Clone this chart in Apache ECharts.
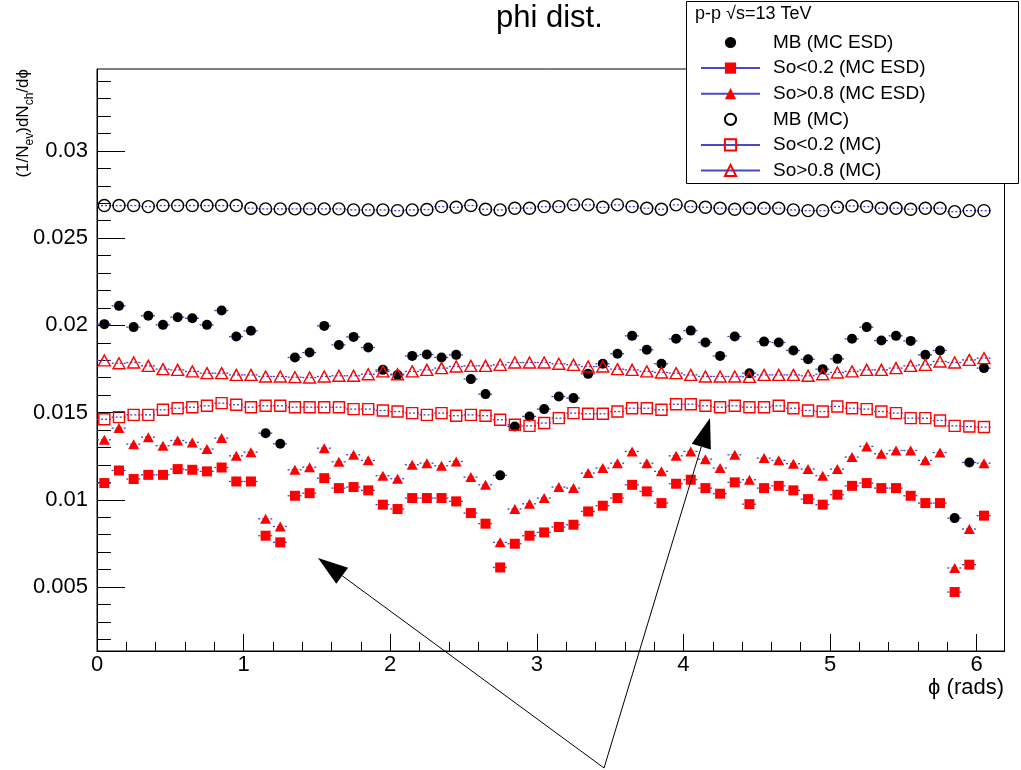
<!DOCTYPE html>
<html>
<head>
<meta charset="UTF-8">
<title>phi dist.</title>
<script src="https://cdn.jsdelivr.net/npm/echarts@6/dist/echarts.min.js"></script>
<style>
  html, body { margin: 0; padding: 0; background: #fff; }
  #chart { width: 1021px; height: 770px; }
</style>
</head>
<body>
<div id="chart"></div>
<script>
  // bin centres (rads), bins are 0.1 wide
  var phiBins = [0.05, 0.15, 0.25, 0.35, 0.45, 0.55, 0.65, 0.75, 0.85, 0.95,
                 1.05, 1.15, 1.25, 1.35, 1.45, 1.55, 1.65, 1.75, 1.85, 1.95,
                 2.05, 2.15, 2.25, 2.35, 2.45, 2.55, 2.65, 2.75, 2.85, 2.95,
                 3.05, 3.15, 3.25, 3.35, 3.45, 3.55, 3.65, 3.75, 3.85, 3.95,
                 4.05, 4.15, 4.25, 4.35, 4.45, 4.55, 4.65, 4.75, 4.85, 4.95,
                 5.05, 5.15, 5.25, 5.35, 5.45, 5.55, 5.65, 5.75, 5.85, 5.95,
                 6.05];
  var HALF_BIN = 0.05;

  // MB (MC ESD) - filled black circles
  var mbEsd = [0.02007, 0.02112, 0.01990, 0.02055, 0.02003, 0.02047, 0.02041, 0.02003, 0.02085, 0.01936,
               0.01969, 0.01382, 0.01321, 0.01816, 0.01844, 0.01997, 0.01888, 0.01934, 0.01873, 0.01745,
               0.01716, 0.01825, 0.01833, 0.01816, 0.01831, 0.01692, 0.01606, 0.01140, 0.01420, 0.01478,
               0.01520, 0.01592, 0.01583, 0.01722, 0.01780, 0.01837, 0.01940, 0.01860, 0.01780, 0.01923,
               0.01970, 0.01902, 0.01825, 0.01936, 0.01726, 0.01907, 0.01902, 0.01856, 0.01806, 0.01749,
               0.01808, 0.01923, 0.01990, 0.01913, 0.01940, 0.01911, 0.01831, 0.01856, 0.00895, 0.01214,
               0.01755];
  // So<0.2 (MC ESD) - filled red squares
  var soLowEsd = [0.01096, 0.01168, 0.01119, 0.01143, 0.01143, 0.01176, 0.01172, 0.01163, 0.01185, 0.01105,
                  0.01105, 0.00794, 0.00756, 0.01023, 0.01038, 0.01124, 0.01067, 0.01073, 0.01054, 0.00972,
                  0.00947, 0.01010, 0.01010, 0.01010, 0.00991, 0.00924, 0.00863, 0.00612, 0.00748, 0.00794,
                  0.00813, 0.00844, 0.00857, 0.00933, 0.00966, 0.01010, 0.01086, 0.01048, 0.00981, 0.01092,
                  0.01115, 0.01067, 0.01035, 0.01100, 0.00975, 0.01067, 0.01080, 0.01054, 0.01004, 0.00972,
                  0.01029, 0.01080, 0.01096, 0.01067, 0.01067, 0.01023, 0.00981, 0.00981, 0.00471, 0.00628,
                  0.00909];
  // So>0.8 (MC ESD) - filled red triangles
  var soHighEsd = [0.01344, 0.01411, 0.01319, 0.01359, 0.01310, 0.01340, 0.01329, 0.01291, 0.01354, 0.01252,
                   0.01273, 0.00891, 0.00847, 0.01172, 0.01187, 0.01296, 0.01218, 0.01258, 0.01226, 0.01138,
                   0.01121, 0.01201, 0.01210, 0.01195, 0.01220, 0.01130, 0.01086, 0.00756, 0.00947, 0.00977,
                   0.01010, 0.01073, 0.01067, 0.01153, 0.01182, 0.01210, 0.01277, 0.01210, 0.01163, 0.01252,
                   0.01277, 0.01233, 0.01182, 0.01258, 0.01115, 0.01239, 0.01226, 0.01207, 0.01176, 0.01138,
                   0.01176, 0.01245, 0.01306, 0.01264, 0.01283, 0.01283, 0.01226, 0.01271, 0.00609, 0.00832,
                   0.01210];
  // MB (MC) - open black circles
  var mbMc = [0.02687, 0.02687, 0.02687, 0.02681, 0.02687, 0.02687, 0.02687, 0.02687, 0.02687, 0.02687,
              0.02672, 0.02668, 0.02668, 0.02668, 0.02668, 0.02668, 0.02668, 0.02662, 0.02662, 0.02662,
              0.02658, 0.02662, 0.02664, 0.02681, 0.02677, 0.02687, 0.02666, 0.02662, 0.02672, 0.02672,
              0.02681, 0.02681, 0.02691, 0.02691, 0.02677, 0.02691, 0.02681, 0.02672, 0.02666, 0.02691,
              0.02681, 0.02677, 0.02672, 0.02666, 0.02672, 0.02672, 0.02672, 0.02662, 0.02658, 0.02658,
              0.02677, 0.02685, 0.02681, 0.02672, 0.02672, 0.02666, 0.02672, 0.02672, 0.02652, 0.02658,
              0.02658];
  // So<0.2 (MC) - open red squares
  var soLowMc = [0.01462, 0.01474, 0.01487, 0.01487, 0.01516, 0.01525, 0.01531, 0.01539, 0.01554, 0.01545,
                 0.01531, 0.01539, 0.01539, 0.01531, 0.01531, 0.01531, 0.01531, 0.01520, 0.01520, 0.01512,
                 0.01506, 0.01497, 0.01487, 0.01497, 0.01482, 0.01487, 0.01482, 0.01459, 0.01430, 0.01424,
                 0.01440, 0.01468, 0.01497, 0.01493, 0.01493, 0.01506, 0.01525, 0.01525, 0.01516, 0.01548,
                 0.01548, 0.01539, 0.01531, 0.01539, 0.01531, 0.01531, 0.01539, 0.01525, 0.01512, 0.01506,
                 0.01535, 0.01525, 0.01520, 0.01506, 0.01497, 0.01468, 0.01468, 0.01455, 0.01424, 0.01420,
                 0.01417];
  // So>0.8 (MC) - open red triangles
  var soHighMc = [0.01799, 0.01783, 0.01787, 0.01768, 0.01749, 0.01745, 0.01736, 0.01726, 0.01726, 0.01716,
                  0.01716, 0.01707, 0.01707, 0.01703, 0.01701, 0.01707, 0.01711, 0.01711, 0.01720, 0.01736,
                  0.01720, 0.01736, 0.01745, 0.01755, 0.01764, 0.01768, 0.01768, 0.01774, 0.01787, 0.01787,
                  0.01787, 0.01780, 0.01774, 0.01764, 0.01764, 0.01749, 0.01745, 0.01736, 0.01730, 0.01726,
                  0.01716, 0.01707, 0.01707, 0.01707, 0.01705, 0.01716, 0.01716, 0.01716, 0.01711, 0.01720,
                  0.01730, 0.01736, 0.01745, 0.01745, 0.01755, 0.01768, 0.01774, 0.01793, 0.01787, 0.01802,
                  0.01812];

  var xMajorTicks = [0, 1, 2, 3, 4, 5, 6];
  var xMinorTicks = [0.2, 0.4, 0.6, 0.8, 1.2, 1.4, 1.6, 1.8, 2.2, 2.4, 2.6, 2.8,
                     3.2, 3.4, 3.6, 3.8, 4.2, 4.4, 4.6, 4.8, 5.2, 5.4, 5.6, 5.8, 6.0];
  var yMajorTicks = [0.005, 0.01, 0.015, 0.02, 0.025, 0.03];
  var yMinorTicks = [0.002, 0.003, 0.004, 0.006, 0.007, 0.008, 0.009, 0.011, 0.012, 0.013, 0.014,
                     0.016, 0.017, 0.018, 0.019, 0.021, 0.022, 0.023, 0.024, 0.026, 0.027, 0.028,
                     0.029, 0.031, 0.032, 0.033, 0.034];

  // y title pieces: [text, isSubscript]
  var yTitleParts = [['(1/N', false], ['ev', true], [')dN', false], ['ch', true], ['/d\u03D5', false]];

  var X_MIN = 0, X_MAX = 6.19;
  var Y_MIN = 0.00133, Y_MAX = 0.0347;

  var FONT = '"Liberation Sans", Arial, Helvetica, sans-serif';
  var RED = '#ff0000';
  var BAR_BLUE = '#4040d0';

  function pairs(ys) {
    return phiBins.map(function (x, i) { return [x, ys[i]]; });
  }

  // markers only, no connecting line (line type so the legend can show the blue bar)
  function markerSeries(name, ys, symbol, size, fill, stroke) {
    var hollow = fill === 'transparent';
    return {
      name: name,
      type: 'line',
      data: pairs(ys),
      symbol: symbol,
      symbolSize: size,
      showAllSymbol: true,
      lineStyle: { width: 0 },
      itemStyle: { color: fill, borderColor: stroke, borderWidth: hollow ? 1.4 : 0 },
      emphasis: { disabled: true },
      silent: true,
      z: 3
    };
  }

  // horizontal bin-width bars drawn in dotted blue
  function binBars(ys) {
    return {
      type: 'custom',
      data: pairs(ys),
      encode: { x: 0, y: 1 },
      silent: true,
      z: 2,
      renderItem: function (params, api) {
        var x = api.value(0), y = api.value(1);
        var a = api.coord([x - HALF_BIN, y]);
        var b = api.coord([x + HALF_BIN, y]);
        return {
          type: 'line',
          shape: { x1: a[0], y1: a[1], x2: b[0], y2: b[1] },
          style: { stroke: BAR_BLUE, lineWidth: 1.3, lineDash: [2, 2] }
        };
      }
    };
  }

  function arrow(x0, y0, x1, y1) {
    var dx = x1 - x0, dy = y1 - y0;
    var len = Math.sqrt(dx * dx + dy * dy);
    var ux = dx / len, uy = dy / len;
    var headLen = 30, headHalf = 10;
    var bx = x1 - ux * headLen, by = y1 - uy * headLen;
    return [
      { type: 'line', z: 10, shape: { x1: x0, y1: y0, x2: bx, y2: by },
        style: { stroke: '#000', lineWidth: 1 } },
      { type: 'polygon', z: 10,
        shape: { points: [[x1, y1], [bx - uy * headHalf, by + ux * headHalf], [bx + uy * headHalf, by - ux * headHalf]] },
        style: { fill: '#000' } }
    ];
  }

  // rotated y title with real subscripts, pieces laid out along the baseline
  function yTitle(baseX, topY) {
    var ctx = document.createElement('canvas').getContext('2d');
    var MAIN = 17, SUB = 12;
    var children = [], pos = 0;
    yTitleParts.forEach(function (p) {
      var fs = p[1] ? SUB : MAIN;
      var font = fs + 'px ' + FONT;
      ctx.font = font;
      children.push({
        type: 'text', x: pos, y: (p[1] ? 5 : 0) - 0.3465 * fs,
        style: { text: p[0], font: font, fill: '#000', verticalAlign: 'middle' }
      });
      pos += ctx.measureText(p[0]).width;
    });
    return { type: 'group', x: baseX, y: topY + pos, rotation: Math.PI / 2, z: 5, children: children };
  }

  var names = ['MB (MC ESD)', 'So<0.2 (MC ESD)', 'So>0.8 (MC ESD)', 'MB (MC)', 'So<0.2 (MC)', 'So>0.8 (MC)'];
  var barLine = { width: 2, color: '#4848c8', opacity: 1, type: 'solid' };

  var chart = echarts.init(document.getElementById('chart'));

  var option = {
    animation: false,
    backgroundColor: '#fff',
    textStyle: { fontFamily: FONT },
    title: {
      text: 'phi dist.',
      left: 496,
      top: 3,
      padding: 0,
      textStyle: { fontSize: 31, fontWeight: 'normal', color: '#000', fontFamily: FONT }
    },
    legend: {
      orient: 'vertical',
      left: 700,
      top: 33,
      padding: 0,
      itemWidth: 59,
      itemHeight: 14,
      itemGap: 6.6,
      selectedMode: false,
      textStyle: { fontSize: 19, lineHeight: 19, color: '#000', fontFamily: FONT, padding: [0, 0, 0, 8] },
      data: [
        { name: names[0] },
        { name: names[1], lineStyle: barLine },
        { name: names[2], lineStyle: barLine },
        { name: names[3] },
        { name: names[4], lineStyle: barLine },
        { name: names[5], lineStyle: barLine }
      ]
    },
    grid: {
      left: 97, right: 16.5, top: 69, bottom: 119,
      show: true, borderColor: '#000', borderWidth: 1, backgroundColor: 'transparent'
    },
    xAxis: [{
      type: 'value', position: 'bottom', min: X_MIN, max: X_MAX,
      axisLine: { lineStyle: { color: '#000', width: 1 } },
      axisTick: { inside: true, length: 17, customValues: xMajorTicks, lineStyle: { color: '#000' } },
      axisLabel: { customValues: xMajorTicks, margin: 3, fontSize: 22, color: '#000', fontFamily: FONT },
      splitLine: { show: false }
    }, {
      type: 'value', position: 'bottom', min: X_MIN, max: X_MAX,
      axisLine: { show: false },
      axisTick: { inside: true, length: 9, customValues: xMinorTicks, lineStyle: { color: '#000' } },
      axisLabel: { show: false, customValues: xMinorTicks },
      splitLine: { show: false }
    }],
    yAxis: [{
      type: 'value', position: 'left', min: Y_MIN, max: Y_MAX,
      axisLine: { show: true, lineStyle: { color: '#000', width: 1 } },
      axisTick: { show: true, inside: true, length: 28, customValues: yMajorTicks, lineStyle: { color: '#000' } },
      axisLabel: {
        customValues: yMajorTicks, margin: 9, fontSize: 22, color: '#000', fontFamily: FONT,
        formatter: function (v) { return String(+v.toFixed(3)); }
      },
      splitLine: { show: false }
    }, {
      type: 'value', position: 'left', min: Y_MIN, max: Y_MAX,
      axisLine: { show: false },
      axisTick: { show: true, inside: true, length: 14, customValues: yMinorTicks, lineStyle: { color: '#000' } },
      axisLabel: { show: false, customValues: yMinorTicks },
      splitLine: { show: false }
    }],
    graphic: [
      // legend box and header
      { type: 'rect', z: 3, shape: { x: 686.5, y: 1.5, width: 332, height: 182 },
        style: { fill: '#fff', stroke: '#000', lineWidth: 1 } },
      { type: 'text', z: 5, x: 695, y: 14,
        style: { text: 'p-p \u221As=13 TeV', font: '18px ' + FONT, fill: '#000', verticalAlign: 'middle' } },
      yTitle(29, 69),
      { type: 'text', z: 5, x: 1004, y: 688,
        style: { text: '\u03D5 (rads)', font: '22px ' + FONT, fill: '#000', align: 'right', verticalAlign: 'middle' } }
    ].concat(arrow(604, 768, 318, 558), arrow(604, 768, 710, 418)),
    series: [
      binBars(mbEsd), binBars(soLowEsd), binBars(soHighEsd),
      binBars(mbMc), binBars(soLowMc), binBars(soHighMc),
      markerSeries(names[0], mbEsd, 'circle', 10, '#000', '#000'),
      markerSeries(names[1], soLowEsd, 'rect', 10, RED, RED),
      markerSeries(names[2], soHighEsd, 'triangle', [11, 10], RED, RED),
      markerSeries(names[3], mbMc, 'circle', 12, 'transparent', '#000'),
      markerSeries(names[4], soLowMc, 'rect', 11, 'transparent', RED),
      markerSeries(names[5], soHighMc, 'triangle', [12, 11], 'transparent', RED)
    ]
  };

  chart.setOption(option);
</script>
</body>
</html>
